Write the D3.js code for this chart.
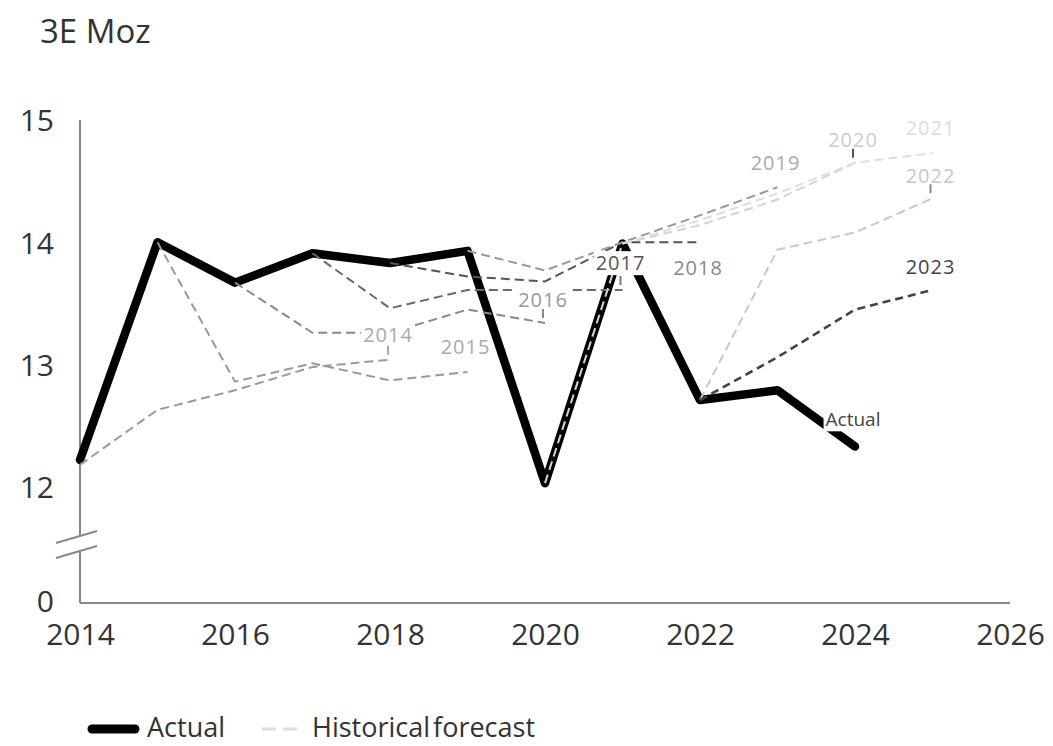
<!DOCTYPE html>
<html><head><meta charset="utf-8">
<script src="https://cdn.jsdelivr.net/npm/d3@7"></script>
<style>
body{margin:0;background:#fff}
svg{display:block}
text{font-family:"Open Sans",sans-serif}
</style>
</head><body>
<svg id="chart" width="1053" height="746"></svg>
<script>
// ---------- data ----------
const actualYears  = [2014,2015,2016,2017,2018,2019,2020,2021,2022,2023,2024];
const actualValues = [12.22,14.00,13.67,13.91,13.83,13.93,12.03,13.99,12.71,12.79,12.33];

const forecastNames      = ["2014","2015","2016","2017","2018","2019","2020","2021","2022","2023"];
const forecastStartYears = [2014,2015,2016,2017,2018,2019,2020,2021,2022,2022];
const forecast2014 = [12.18,12.63,12.79,12.98,13.04];
const forecast2015 = [14.00,12.86,13.01,12.87,12.94];
const forecast2016 = [13.67,13.26,13.26,13.45,13.34];
const forecast2017 = [13.91,13.46,13.61,13.61,13.61];
const forecast2018 = [13.83,13.72,13.68,14.00,14.00];
const forecast2019 = [13.93,13.77,14.00,14.22,14.45];
const forecast2020 = [12.03,13.99,14.14,14.35,14.65];
const forecast2021 = [13.99,14.18,14.40,14.65,14.73];
const forecast2022 = [12.71,13.94,14.08,14.36];
const forecast2023 = [12.71,13.06,13.45,13.61];
const forecastValues = [forecast2014,forecast2015,forecast2016,forecast2017,forecast2018,
                        forecast2019,forecast2020,forecast2021,forecast2022,forecast2023];

const xTickValues = [2014,2016,2018,2020,2022,2024,2026];
const yTickValues = [0,12,13,14,15];
const unitLabel = "3E Moz";
const legendLabels = ["Actual","Historical forecast"];

// ---------- styles (not data) ----------
const lineColors  = ["#9a9a9a","#999","#888","#6a6a6a","#555","#999","#d4d4d4","#dedede","#c8c8c8","#444"];
const labelColors = ["#aaa","#aaa","#999","#555","#888","#aaa","#ccc","#ddd","#c8c8c8","#444"];
const labelDy     = [-25,-25,-23,-27,26,-24,-23,-25,-22,-23];
const labelBg     = [true,false,true,true,true,true,true,true,true,true];
const leaderColor = ["#aaa",null,"#888","#777",null,null,"#555",null,"#888",null];

// ---------- scales ----------
const svg = d3.select("#chart");
const x = d3.scaleLinear().domain([2014,2026]).range([80,1010]);
const y = d3.scaleLinear().domain([0,11.05,15]).range([603,603,120]);

// title
svg.append("text").attr("x",40).attr("y",43)
  .attr("font-size",33).attr("fill","#333").text(unitLabel);

// axes lines
const axisG = svg.append("g").attr("stroke","#888").attr("stroke-width",2);
axisG.append("line").attr("x1",x(2014)).attr("x2",x(2026)).attr("y1",y(0)).attr("y2",y(0));
axisG.append("line").attr("x1",x(2014)).attr("x2",x(2014)).attr("y1",y(15)).attr("y2",537);
axisG.append("line").attr("x1",x(2014)).attr("x2",x(2014)).attr("y1",552).attr("y2",y(0));
axisG.append("line").attr("x1",56).attr("y1",543).attr("x2",97).attr("y2",531);
axisG.append("line").attr("x1",56).attr("y1",558).attr("x2",97).attr("y2",546);

// axis labels via d3 axes
const yAxis = svg.append("g").attr("transform",`translate(${x(2014)},0)`)
  .call(d3.axisLeft(y).tickValues(yTickValues).tickSize(0).tickPadding(26).tickFormat(d3.format("d")));
yAxis.select(".domain").remove();
yAxis.selectAll("text").attr("font-size",30).attr("fill","#333")
  .attr("font-family","'Open Sans',sans-serif").attr("dy","0.36em");
yAxis.selectAll(".tick").filter(d=>d===0).select("text").attr("y",-2);

const xAxis = svg.append("g").attr("transform",`translate(0,${y(0)})`)
  .call(d3.axisBottom(x).tickValues(xTickValues).tickSize(0).tickPadding(21).tickFormat(d3.format("d")));
xAxis.select(".domain").remove();
xAxis.selectAll("text").attr("font-size",30).attr("fill","#333")
  .attr("font-family","'Open Sans',sans-serif");

// actual line
const line = d3.line().x(d=>x(d[0])).y(d=>y(d[1]));
const actualPts = actualYears.map((yr,i)=>[yr,actualValues[i]]);
svg.append("path").attr("d",line(actualPts)).attr("fill","none")
  .attr("stroke","#000").attr("stroke-width",8.5)
  .attr("stroke-linejoin","round").attr("stroke-linecap","round");

// forecast lines
const fcPts = forecastValues.map((vals,i)=>vals.map((v,j)=>[forecastStartYears[i]+j,v]));
fcPts.forEach((pts,i)=>{
  svg.append("path").attr("d",line(pts)).attr("fill","none")
    .attr("stroke",lineColors[i]).attr("stroke-width",i===9?2.6:2)
    .attr("stroke-dasharray",i===9?"8,5":"9,5");
});

// labels
function addLabel(txt,cx,cy,color,bg,size){
  const g = svg.append("g");
  const t = g.append("text").attr("x",cx).attr("y",cy).attr("dy","0.36em")
    .attr("text-anchor","middle").attr("font-size",size).attr("fill",color)
    .attr("letter-spacing",size===20?"1px":"0px").text(txt);
  if(bg){
    const b = t.node().getBBox();
    g.insert("rect","text").attr("x",b.x-2).attr("y",b.y+2).attr("width",b.width+4)
      .attr("height",b.height-3).attr("fill","#fff");
  }
}
fcPts.forEach((pts,i)=>{
  const end = pts[pts.length-1];
  const ex = x(end[0]), ey = y(end[1]);
  addLabel(forecastNames[i], ex-2, ey+labelDy[i], labelColors[i], labelBg[i], 20);
  if(leaderColor[i]){
    svg.append("line").attr("x1",ex-2).attr("x2",ex-2).attr("y1",ey-14).attr("y2",ey-5)
      .attr("stroke",leaderColor[i]).attr("stroke-width",2);
  }
});
const lastA = actualPts[actualPts.length-1];
addLabel(legendLabels[0], x(lastA[0])-2, y(lastA[1])-27, "#444", true, 19);

// legend
const lg = svg.append("g");
lg.append("line").attr("x1",92).attr("x2",135).attr("y1",729).attr("y2",729)
  .attr("stroke","#000").attr("stroke-width",9).attr("stroke-linecap","round");
lg.append("text").attr("x",147).attr("y",737).attr("font-size",27).attr("fill","#333").text(legendLabels[0]);
lg.append("line").attr("x1",262).attr("x2",300).attr("y1",729).attr("y2",729)
  .attr("stroke","#ddd").attr("stroke-width",3).attr("stroke-dasharray","14,7");
lg.append("text").attr("x",312).attr("y",737).attr("font-size",27).attr("fill","#333")
  .attr("word-spacing","-4px").text(legendLabels[1]);
</script>
</body></html>
